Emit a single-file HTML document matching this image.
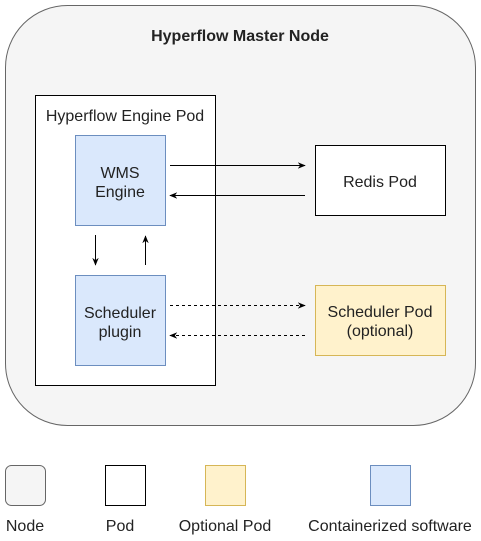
<!DOCTYPE html>
<html><head><meta charset="utf-8"><style>
html,body{margin:0;padding:0;background:#fff;}
svg{display:block;}
text{font-family:"Liberation Sans",Arial,sans-serif;font-size:16px;fill:#222;}
</style></head><body>
<svg width="481" height="541" viewBox="0 0 481 541" xmlns="http://www.w3.org/2000/svg">
<defs>
<marker id="a" viewBox="0 0 10 10" refX="9" refY="5" markerWidth="8" markerHeight="8" orient="auto" markerUnits="userSpaceOnUse"><path d="M0,1 L10,5 L0,9 L3,5 Z" fill="#000"/></marker>
</defs>
<rect x="5.5" y="5.5" width="470" height="420" rx="62" fill="#f5f5f5" stroke="#666"/>
<text x="240" y="41" text-anchor="middle" style="font-weight:bold">Hyperflow Master Node</text>
<rect x="35.5" y="95.5" width="180" height="290" fill="#fff" stroke="#000"/>
<text x="125" y="121" text-anchor="middle">Hyperflow Engine Pod</text>
<rect x="75.5" y="135.5" width="90" height="90" fill="#dae8fc" stroke="#6c8ebf"/>
<text x="120" y="178" text-anchor="middle">WMS</text>
<text x="120" y="197" text-anchor="middle">Engine</text>
<rect x="75.5" y="275.5" width="90" height="90" fill="#dae8fc" stroke="#6c8ebf"/>
<text x="120" y="318" text-anchor="middle">Scheduler</text>
<text x="120" y="337" text-anchor="middle">plugin</text>
<rect x="315.5" y="145.5" width="130" height="70" fill="#fff" stroke="#000"/>
<text x="380" y="187" text-anchor="middle">Redis Pod</text>
<rect x="315.5" y="285.5" width="130" height="70" fill="#fff2cc" stroke="#d6b656"/>
<text x="380" y="317" text-anchor="middle">Scheduler Pod</text>
<text x="380" y="336" text-anchor="middle">(optional)</text>
<g stroke="#000" stroke-width="1">
<line x1="170" y1="165.5" x2="305" y2="165.5" marker-end="url(#a)"/>
<line x1="305" y1="195.5" x2="170" y2="195.5" marker-end="url(#a)"/>
<line x1="95.5" y1="235" x2="95.5" y2="265" marker-end="url(#a)"/>
<line x1="145.5" y1="265" x2="145.5" y2="236" marker-end="url(#a)"/>
<line x1="170" y1="305.5" x2="305" y2="305.5" stroke-dasharray="3,3" marker-end="url(#a)"/>
<line x1="305" y1="335.5" x2="170" y2="335.5" stroke-dasharray="3,3" marker-end="url(#a)"/>
</g>
<rect x="5.5" y="465.5" width="40" height="40" rx="6" fill="#f5f5f5" stroke="#666"/>
<rect x="105.5" y="465.5" width="40" height="40" fill="#fff" stroke="#000"/>
<rect x="205.5" y="465.5" width="40" height="40" fill="#fff2cc" stroke="#d6b656"/>
<rect x="370.5" y="465.5" width="40" height="40" fill="#dae8fc" stroke="#6c8ebf"/>
<text x="25" y="531" text-anchor="middle">Node</text>
<text x="120" y="531" text-anchor="middle">Pod</text>
<text x="225" y="531" text-anchor="middle">Optional Pod</text>
<text x="390" y="531" text-anchor="middle">Containerized software</text>
</svg>
</body></html>
